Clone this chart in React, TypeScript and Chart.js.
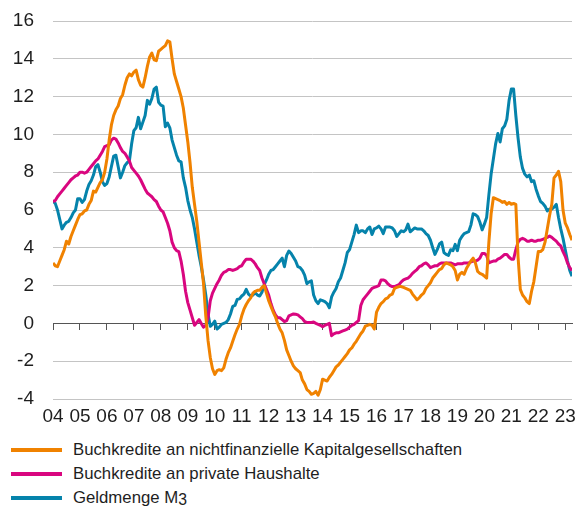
import React, { useEffect, useRef } from "react";
import { Chart, registerables } from "chart.js";

Chart.register(...registerables);

// Monthly data, first value = January 2004
const START_YEAR = 2004;
const SERIES_LABELS = [
  "Buchkredite an nichtfinanzielle Kapitalgesellschaften",
  "Buchkredite an private Haushalte",
  "Geldmenge M3",
];
const COLORS = ["#f08200", "#d9067f", "#0583ab"];
const Y_MIN = -4;
const Y_MAX = 16;
const Y_STEP = 2;

const kreditNFK = [
  3.2, 3.05, 3.0, 3.3, 3.6, 3.9, 4.35, 4.2, 4.6, 4.9, 5.2, 5.5,
  5.75, 5.8, 5.95, 6.0, 6.3, 6.5, 7.0, 6.95, 7.2, 7.45, 7.6, 8.0,
  8.7, 9.7, 10.5, 11.0, 11.3, 11.5, 11.9, 12.1, 12.6, 13.0, 13.2, 13.1,
  13.3, 13.4, 12.9, 12.6, 12.5, 13.0, 13.6, 14.1, 14.3, 13.95, 13.9, 14.4,
  14.5, 14.6, 14.7, 14.95, 14.9, 14.0, 13.2, 12.8, 12.4, 12.0, 11.4, 10.5,
  9.6, 8.5, 7.2, 6.3, 5.4, 4.3, 3.2, 2.1, 0.4, -0.9, -1.8, -2.4,
  -2.7, -2.5, -2.45, -2.5, -2.35, -1.9, -1.55, -1.3, -0.95, -0.6, -0.3, -0.05,
  0.4, 0.75, 1.0, 1.2, 1.35, 1.6, 1.7, 1.75, 1.75, 1.9, 2.0, 1.6,
  1.2, 0.9, 0.6, 0.35, 0.0, -0.3, -0.5, -0.9, -1.4, -1.7, -2.0, -2.25,
  -2.4, -2.5, -2.6, -3.0, -3.2, -3.5, -3.6, -3.75, -3.7, -3.6, -3.8, -3.5,
  -2.95, -3.0, -3.05, -2.85, -2.7, -2.5, -2.3, -2.2, -2.05, -1.9, -1.75, -1.6,
  -1.4, -1.3, -1.1, -0.95, -0.75, -0.55, -0.4, -0.15, -0.1, -0.05, -0.1, -0.3,
  0.6, 0.85, 1.05, 1.15, 1.3, 1.35, 1.5, 1.55, 1.85, 1.9, 1.95, 1.95,
  1.9, 1.85, 1.8, 1.75, 1.55, 1.4, 1.25, 1.35, 1.5, 1.6, 1.85, 2.0,
  2.15, 2.4, 2.55, 2.7, 2.85, 2.9, 3.1, 3.2, 3.15, 3.1, 3.0, 2.8,
  2.3, 2.6, 2.7, 2.6, 2.9, 3.1, 3.3, 3.45, 3.2, 2.75, 2.65, 2.6,
  2.5, 2.4, 4.3, 5.8, 6.65, 6.6, 6.55, 6.5, 6.4, 6.45, 6.3, 6.4,
  6.3, 6.35, 6.3, 3.5, 1.8, 1.5, 1.35, 1.15, 1.05, 1.7, 2.2, 3.0,
  3.8, 3.8, 3.9, 4.3, 5.0, 5.7, 6.3, 7.7, 7.85, 8.05, 7.5, 6.0,
  5.3, 5.05, 4.7, 4.4,
];

const kreditHaushalte = [
  6.45, 6.5, 6.7, 6.85, 7.0, 7.15, 7.3, 7.45, 7.6, 7.7, 7.8, 7.85,
  8.0, 8.0, 7.95, 8.0, 8.15, 8.3, 8.45, 8.6, 8.7, 8.9, 9.1, 9.35,
  9.4, 9.45, 9.7, 9.8, 9.75, 9.55, 9.3, 9.1, 9.0, 8.8, 8.6, 8.25,
  8.1, 7.95, 7.8, 7.6, 7.35, 7.1, 6.9, 6.8, 6.7, 6.55, 6.45, 6.2,
  6.0, 5.9, 5.6, 5.3, 4.9, 4.3, 4.0, 3.85, 3.8, 3.3, 2.6, 1.7,
  1.1, 0.7, 0.3, -0.1, 0.05, 0.2, 0.0, -0.2, -0.1, 0.3, 1.2, 1.6,
  1.85, 2.1, 2.3, 2.55, 2.7, 2.75, 2.85, 2.85, 2.8, 2.85, 2.9, 3.0,
  3.05, 3.25, 3.4, 3.4, 3.4, 3.3, 3.15, 2.95, 2.8, 2.4, 2.1, 1.8,
  1.5, 1.05, 0.7, 0.45, 0.3, 0.3, 0.2, 0.1, 0.15, 0.4, 0.45, 0.5,
  0.48, 0.45, 0.35, 0.25, 0.1, 0.05, 0.05, 0.05, 0.07, 0.0, -0.05, -0.1,
  -0.18, -0.1, -0.05, 0.0, -0.65, -0.55, -0.5, -0.5, -0.45, -0.4, -0.35, -0.3,
  -0.2, -0.1, -0.05, 0.05, 0.15, 0.95, 1.25, 1.4, 1.55, 1.7, 1.85, 1.9,
  1.95, 2.0, 2.3, 2.3, 2.25, 2.1, 2.0, 1.95, 1.95, 2.0, 2.05, 2.2,
  2.3, 2.35, 2.4, 2.5, 2.65, 2.75, 2.85, 3.0, 3.05, 3.15, 3.2, 3.1,
  2.95, 3.0, 3.05, 3.05, 3.15, 3.2, 3.2, 3.2, 3.2, 3.2, 3.15, 3.1,
  3.15, 3.15, 3.15, 3.2, 3.2, 3.2, 3.25, 3.3, 3.3, 3.35, 3.45, 3.7,
  3.7, 3.6, 3.2, 3.25, 3.3, 3.3, 3.4, 3.45, 3.55, 3.65, 3.65, 3.5,
  3.4, 3.4, 3.9, 4.3, 4.45, 4.5, 4.45, 4.35, 4.35, 4.4, 4.35, 4.35,
  4.4, 4.4, 4.45, 4.5, 4.55, 4.62, 4.55, 4.45, 4.35, 4.2, 4.1, 3.8,
  3.55, 3.2, 2.95, 2.8,
];

const geldmengeM3 = [
  6.47, 6.35, 6.0, 5.5, 5.0, 5.2, 5.35, 5.4, 5.6, 5.85, 6.0, 6.6,
  6.6, 6.4, 6.55, 7.0, 7.35, 7.55, 7.85, 8.3, 8.4, 8.0, 7.5, 7.3,
  7.4, 7.75, 8.3, 8.85, 8.9, 8.3, 7.7, 8.0, 8.35, 8.5, 8.6, 9.5,
  10.2, 10.35, 10.9, 10.3, 10.65, 11.0, 11.8, 11.6, 11.9, 12.4, 12.5, 11.7,
  11.55, 11.5, 10.4, 10.6, 10.35, 9.7, 9.3, 8.9, 8.6, 8.55, 7.7, 7.2,
  6.5, 6.0, 5.6, 5.0, 4.3, 3.6, 3.0, 2.3, 1.5, 0.5, -0.15, -0.05,
  0.12, -0.3, -0.2, -0.05, 0.0, 0.05, 0.2, 0.5, 0.9, 0.95, 1.27, 1.3,
  1.45, 1.55, 1.8, 1.55, 1.45, 1.5, 1.62, 1.5, 1.45, 1.65, 2.05, 2.3,
  2.6, 2.8, 2.85, 3.0, 3.15, 3.3, 3.45, 3.0, 3.6, 3.83, 3.7, 3.5,
  3.3, 3.0, 2.95, 2.8, 2.55, 2.1, 2.2, 2.25, 1.5, 1.2, 1.05, 1.25,
  1.2, 1.15, 1.05, 0.83, 1.4, 1.65, 1.85, 2.2, 2.4, 2.8, 3.2, 3.75,
  3.9, 4.3, 4.7, 5.2, 4.8, 4.9, 4.9, 4.8, 5.0, 5.1, 4.7, 5.0,
  5.05, 5.15, 5.0, 4.75, 5.1, 5.1, 5.1, 5.05, 4.9, 4.6, 4.75, 4.9,
  4.85, 4.95, 5.25, 4.85, 4.95, 5.05, 5.0, 5.0, 5.0, 4.9, 4.75, 4.65,
  4.4, 4.0, 3.65, 3.9, 4.2, 4.3, 3.75, 3.65, 3.6, 3.9, 3.85, 4.18,
  3.85, 4.4, 4.6, 4.75, 4.8, 4.85, 5.2, 5.8, 5.75, 5.65, 5.35, 4.95,
  5.25, 5.6, 6.8, 7.9, 8.7, 9.5, 10.05, 9.6, 10.3, 10.45, 10.8, 11.8,
  12.4, 12.4, 11.0, 9.8, 8.8, 8.2, 7.9, 7.75, 7.85, 7.5, 7.55, 7.1,
  6.75, 6.45, 6.35, 6.2, 5.95, 6.05, 6.05, 6.15, 6.3, 5.6, 5.0, 4.5,
  3.9, 3.3, 2.8, 2.5,
];

const SERIES = [kreditNFK, kreditHaushalte, geldmengeM3];
const LAST_INDEX = Math.max(...SERIES.map((s) => s.length)) - 1;
// one tick per January (month index 0, 12, 24, ...)
const YEAR_TICK_VALUES = Array.from({ length: Math.floor(LAST_INDEX / 12) + 1 }, (_, i) => i * 12);

const FONT = "'Liberation Sans', Arial, sans-serif";
const TEXT_COLOR = "#1e1e1e";

const yearLabel = (v: number) =>
  String((START_YEAR + Math.round(v / 12)) % 100).padStart(2, "0");

const setYearTicks = (scale: any) => {
  scale.ticks = YEAR_TICK_VALUES.map((value) => ({ value }));
};

export default function App() {
  const canvasRef = useRef<HTMLCanvasElement | null>(null);

  useEffect(() => {
    if (!canvasRef.current) return;
    const chart = new Chart(canvasRef.current, {
      type: "line",
      data: {
        datasets: SERIES.map((s, i) => ({
          label: SERIES_LABELS[i],
          data: s.map((v, j) => ({ x: j, y: v })),
          borderColor: COLORS[i],
          backgroundColor: COLORS[i],
          borderWidth: 3,
          pointRadius: 0,
          tension: 0,
          fill: false,
          borderJoinStyle: "round" as const,
        })),
      },
      options: {
        animation: false,
        responsive: false,
        maintainAspectRatio: false,
        layout: { padding: { top: 21, right: 12, left: 0, bottom: 0 } },
        plugins: { legend: { display: false }, tooltip: { enabled: false } },
        scales: {
          x: {
            type: "linear",
            position: "bottom",
            min: 0,
            max: LAST_INDEX,
            grid: { display: false, drawTicks: false },
            border: { display: false },
            afterBuildTicks: setYearTicks,
            afterFit: (s: any) => {
              s.height = 31;
            },
            ticks: {
              autoSkip: false,
              maxRotation: 0,
              padding: 6,
              color: TEXT_COLOR,
              font: { family: FONT, size: 19 },
              callback: (v: any) => yearLabel(Number(v)),
            },
          },
          x2: {
            type: "linear",
            position: { y: 0 } as any,
            min: 0,
            max: LAST_INDEX,
            grid: {
              drawOnChartArea: false,
              drawTicks: true,
              tickLength: 6,
              color: "#555555",
              lineWidth: 1,
            },
            border: { display: true, color: "#555555", width: 1 },
            afterBuildTicks: setYearTicks,
            ticks: { display: false },
          },
          y: {
            min: Y_MIN,
            max: Y_MAX,
            afterFit: (s: any) => {
              s.width = 53;
            },
            grid: {
              drawTicks: true,
              tickLength: 19,
              tickColor: "rgba(0,0,0,0)",
              lineWidth: 1,
              color: (ctx: any) =>
                ctx.tick && ctx.tick.value === 0 ? "rgba(0,0,0,0)" : "#c4c4c4",
            },
            border: { display: false },
            ticks: {
              stepSize: Y_STEP,
              padding: 0,
              color: TEXT_COLOR,
              font: { family: FONT, size: 19 },
            },
          },
        },
      },
    });
    return () => chart.destroy();
  }, []);

  return (
    <div style={{ position: "absolute", left: 0, top: 0, width: 584, height: 511, background: "#fff" }}>
      <canvas ref={canvasRef} width={584} height={430} style={{ position: "absolute", left: 0, top: 0 }} />
      <div
        style={{
          position: "absolute",
          left: 0,
          top: 438,
          fontFamily: FONT,
          fontSize: 17,
          lineHeight: "24px",
          color: TEXT_COLOR,
        }}
      >
        {SERIES_LABELS.map((label, i) => (
          <div key={label} style={{ display: "flex", alignItems: "center", height: 24, whiteSpace: "nowrap" }}>
            <span
              style={{
                display: "inline-block",
                width: 51,
                height: 3.5,
                background: COLORS[i],
                marginLeft: 11,
                marginRight: 11,
              }}
            />
            <span style={{ display: "inline-block", transform: "scaleX(0.985)", transformOrigin: "left center" }}>
              {label.endsWith("M3") ? (
                <>
                  {label.slice(0, -1)}
                  <span style={{ fontSize: 16, position: "relative", top: 2 }}>3</span>
                </>
              ) : (
                label
              )}
            </span>
          </div>
        ))}
      </div>
    </div>
  );
}
